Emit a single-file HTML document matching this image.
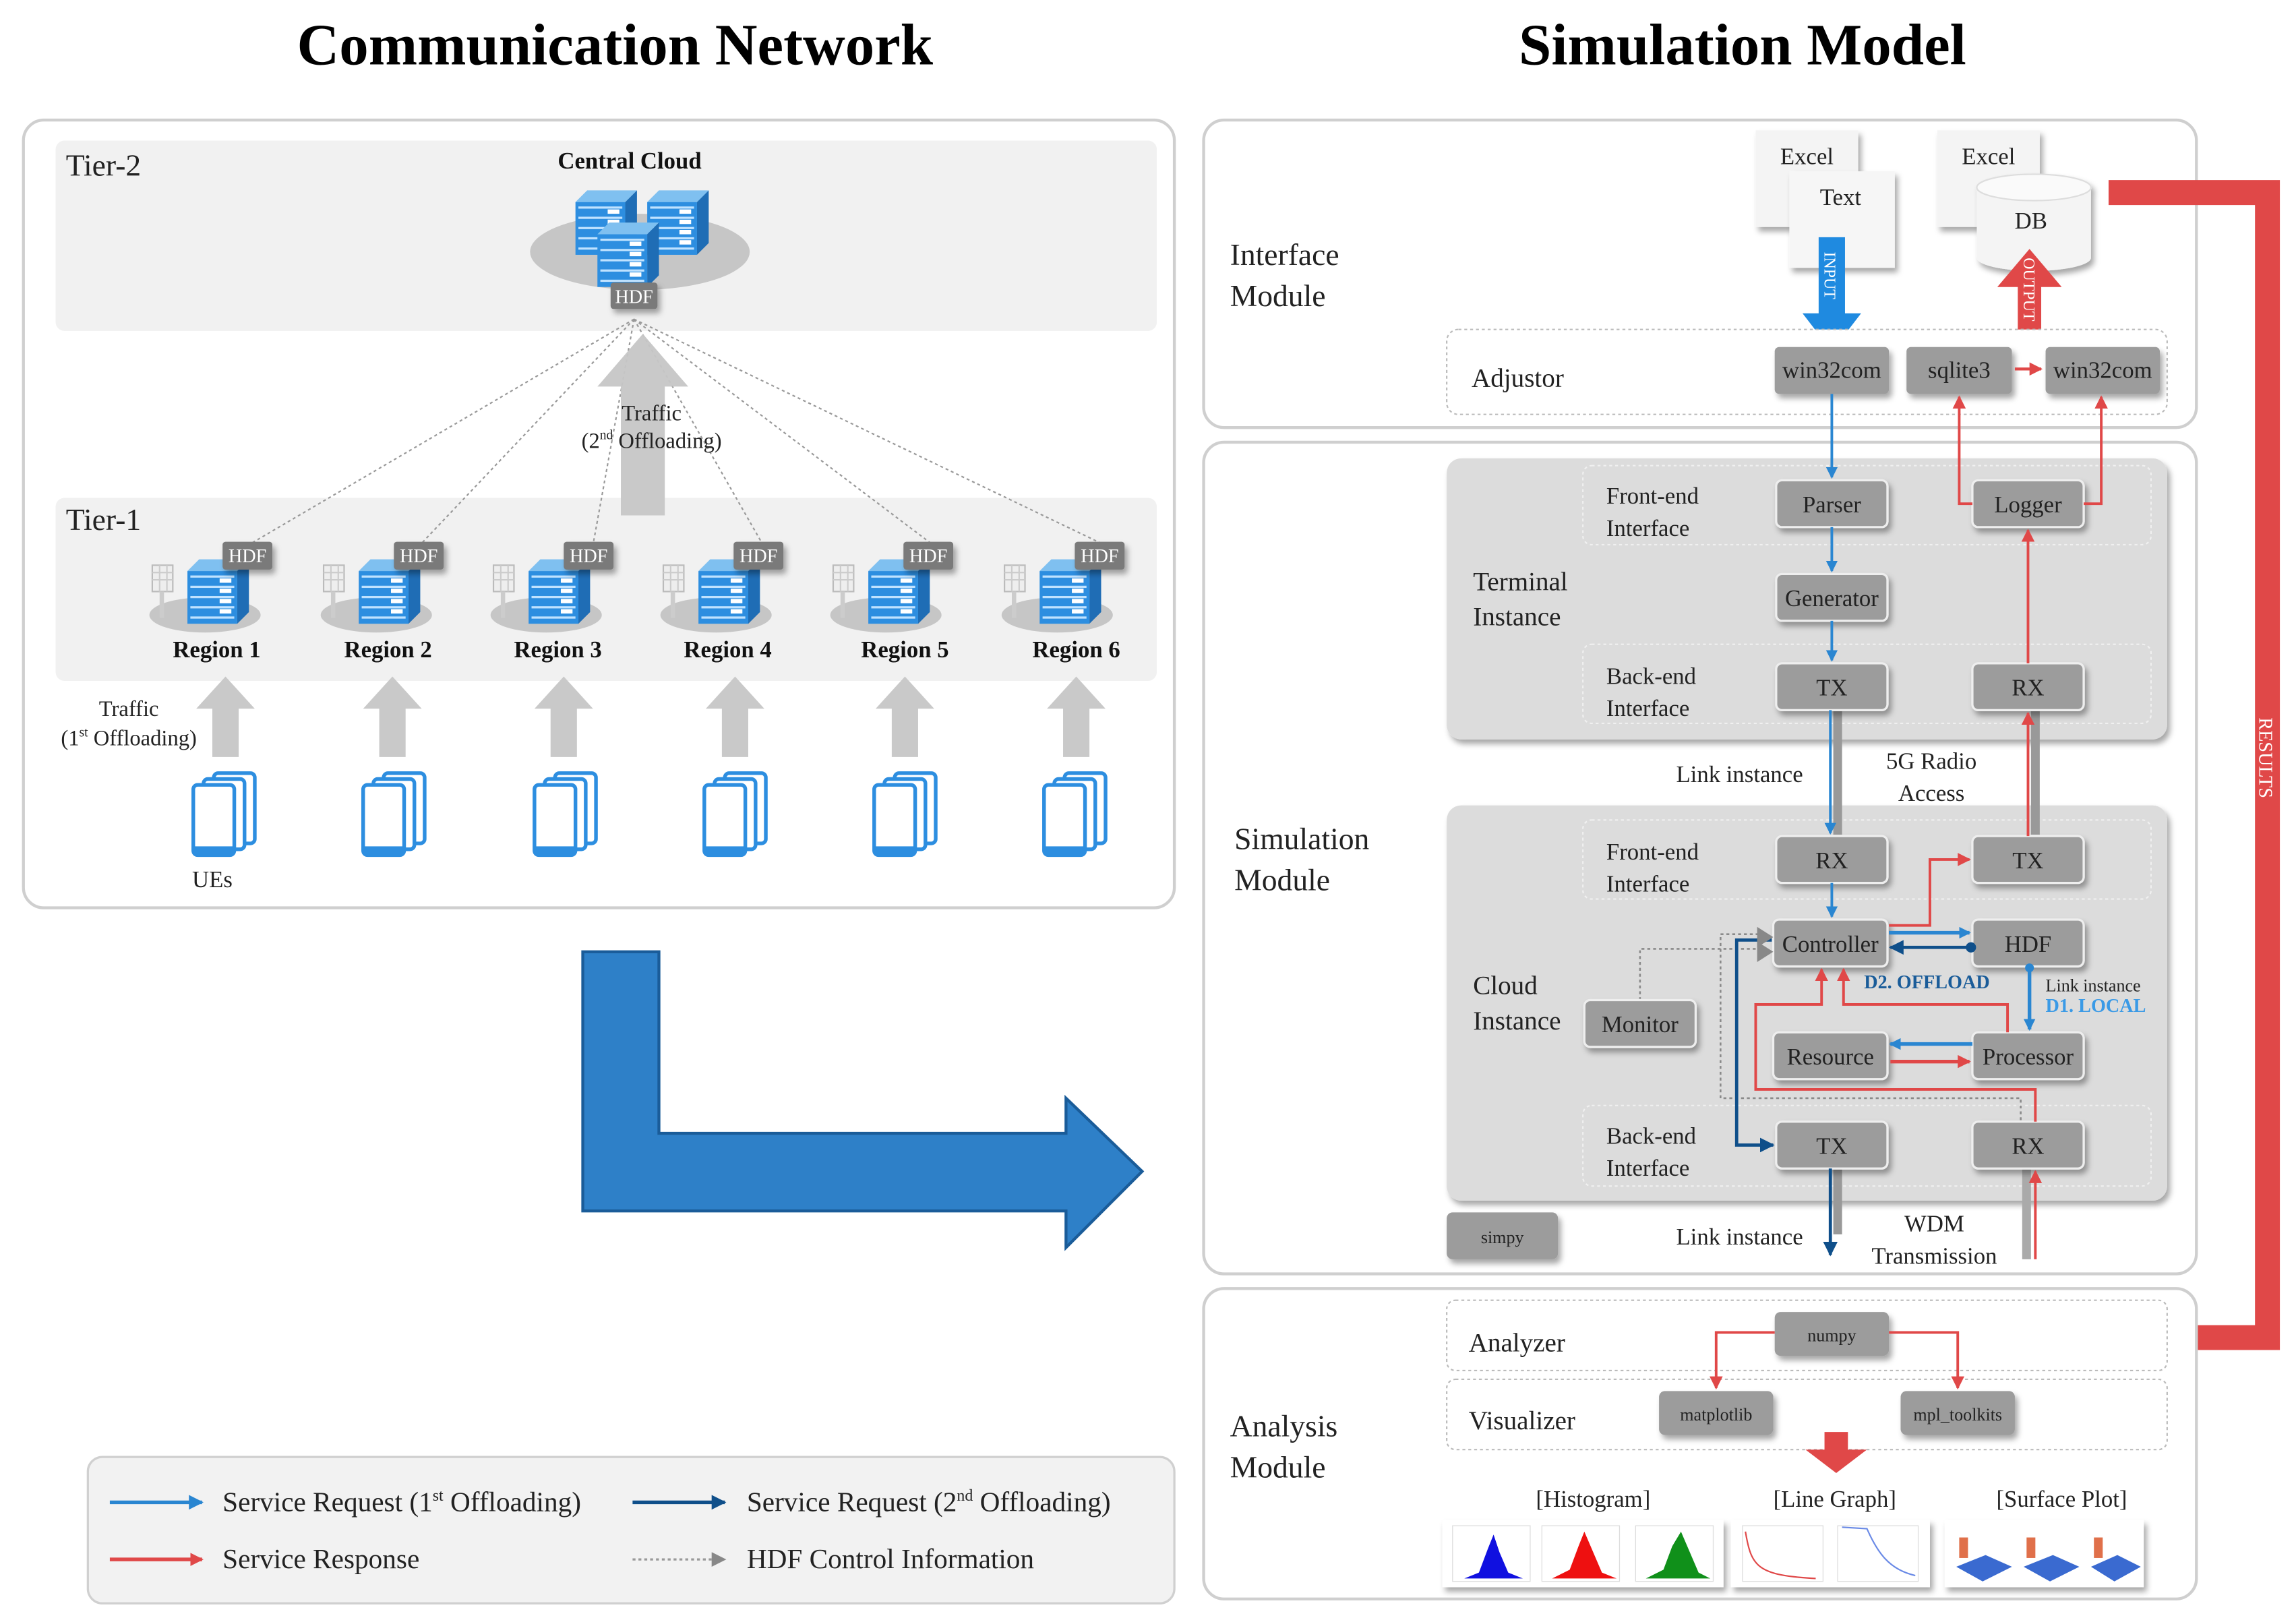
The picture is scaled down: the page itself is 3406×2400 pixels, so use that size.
<!DOCTYPE html>
<html><head><meta charset="utf-8"><style>
html,body{margin:0;padding:0;background:#fff;}
svg{display:block;}
text{font-family:"Liberation Serif",serif;}
text:not([fill]){fill:#222;}
</style></head><body>
<svg width="3406" height="2400" viewBox="0 0 1568 1105" preserveAspectRatio="none" xmlns="http://www.w3.org/2000/svg">
<defs>
<filter id="sh" x="-20%" y="-20%" width="150%" height="160%"><feDropShadow dx="2" dy="3" stdDeviation="2" flood-color="#000" flood-opacity="0.35"/></filter>
<marker id="mb" markerWidth="8" markerHeight="8" refX="7" refY="4" orient="auto" markerUnits="userSpaceOnUse"><path d="M0,0 L8,4 L0,8z" fill="#2a86d1"/></marker>
<marker id="mb2" markerWidth="10" markerHeight="10" refX="9" refY="5" orient="auto" markerUnits="userSpaceOnUse"><path d="M0,0 L10,5 L0,10z" fill="#2a86d1"/></marker>
<marker id="md" markerWidth="10" markerHeight="10" refX="9" refY="5" orient="auto" markerUnits="userSpaceOnUse"><path d="M0,0 L10,5 L0,10z" fill="#0f4f8a"/></marker>
<marker id="mr" markerWidth="9" markerHeight="9" refX="8" refY="4.5" orient="auto" markerUnits="userSpaceOnUse"><path d="M0,0 L9,4.5 L0,9z" fill="#e04848"/></marker>
<marker id="mg" markerWidth="10" markerHeight="10" refX="9" refY="5" orient="auto" markerUnits="userSpaceOnUse"><path d="M0,0 L10,5 L0,10z" fill="#888"/></marker>
<g id="srv">
<path d="M0,8 L8,0 L42,0 L34,8z" fill="#7fc0f0"/>
<path d="M34,8 L42,0 L42,36 L34,44z" fill="#1f6db5"/>
<rect x="0" y="8" width="34" height="36" fill="#2d8ee0"/>
<g fill="#bfe2ff"><rect x="2" y="11" width="30" height="1.5"/><rect x="2" y="18" width="30" height="1.5"/><rect x="2" y="25" width="30" height="1.5"/><rect x="2" y="32" width="30" height="1.5"/><rect x="2" y="39" width="30" height="1.5"/></g>
<g fill="#fff"><rect x="22" y="13" width="8" height="3"/><rect x="22" y="20" width="8" height="3"/><rect x="22" y="27" width="8" height="3"/><rect x="22" y="34" width="8" height="3"/></g>
</g>
<g id="phone">
<rect x="14" y="0" width="28" height="48" rx="3" fill="#fff" stroke="#2d8ee0" stroke-width="2.5"/>
<rect x="7" y="4" width="28" height="48" rx="3" fill="#fff" stroke="#2d8ee0" stroke-width="2.5"/>
<rect x="0" y="8" width="28" height="48" rx="3" fill="#fff" stroke="#2d8ee0" stroke-width="2.5"/>
<rect x="0" y="50" width="28" height="6" fill="#2d8ee0"/>
</g>
<g id="ant">
<rect x="0" y="0" width="14" height="18" fill="#eee" stroke="#bbb"/>
<g stroke="#ccc" stroke-width="1"><line x1="0" y1="5" x2="14" y2="5"/><line x1="0" y1="10" x2="14" y2="10"/><line x1="5" y1="0" x2="5" y2="18"/><line x1="10" y1="0" x2="10" y2="18"/></g>
<rect x="5" y="18" width="3" height="18" fill="#ccc"/>
</g>
<g id="gup"><path d="M-9,55 L-9,22 L-20,22 L0,0 L20,22 L9,22 L9,55z" fill="#c9c9c9"/></g>
</defs>

<!-- Titles -->
<text x="420" y="44" font-size="40" font-weight="bold" text-anchor="middle" fill="#000">Communication Network</text>
<text x="1190" y="44" font-size="40" font-weight="bold" text-anchor="middle" fill="#000">Simulation Model</text>

<!-- LEFT PANEL -->
<rect x="16" y="82" width="786" height="538" rx="14" fill="#fff" stroke="#cfcfcf" stroke-width="2"/>
<rect x="38" y="96" width="752" height="130" rx="6" fill="#f1f1f1"/>
<text x="45" y="120" font-size="21">Tier-2</text>
<text x="430" y="115" font-size="16" font-weight="bold" text-anchor="middle" fill="#111">Central Cloud</text>
<ellipse cx="437" cy="172" rx="75" ry="26" fill="#c6c6c6"/>
<use href="#srv" x="393" y="130"/>
<use href="#srv" x="442" y="130"/>
<use href="#srv" x="408" y="152"/>
<rect x="417" y="193" width="32" height="18" rx="2" fill="#7a7a7a" filter="url(#sh)"/>
<text x="433" y="207" font-size="13" fill="#fff" text-anchor="middle">HDF</text>

<rect x="38" y="340" width="752" height="125" rx="6" fill="#f1f1f1"/>
<text x="45" y="362" font-size="21">Tier-1</text>

<g stroke="#999" stroke-width="1" stroke-dasharray="2,2" fill="none">
<line x1="433" y1="218" x2="170" y2="372"/>
<line x1="433" y1="218" x2="287" y2="372"/>
<line x1="433" y1="218" x2="405" y2="372"/>
<line x1="433" y1="218" x2="521" y2="372"/>
<line x1="433" y1="218" x2="637" y2="372"/>
<line x1="433" y1="218" x2="754" y2="372"/>
</g>
<path d="M424,352 L424,264 L408,264 L439,228 L470,264 L454,264 L454,352z" fill="#c6c6c6" opacity="0.95"/>
<text x="445" y="287" font-size="15" text-anchor="middle">Traffic</text>
<text x="445" y="306" font-size="15" text-anchor="middle">(2<tspan font-size="9" dy="-6">nd</tspan><tspan dy="6"> Offloading)</tspan></text>

<g>
<g transform="translate(140,0)">
<ellipse cx="0" cy="420" rx="38" ry="12" fill="#c6c6c6"/>
<use href="#ant" x="-36" y="386"/>
<use href="#srv" x="-12" y="382"/>
<rect x="12" y="370" width="34" height="19" rx="2" fill="#7a7a7a" filter="url(#sh)"/>
<text x="29" y="384" font-size="13" fill="#fff" text-anchor="middle">HDF</text>
<text x="8" y="449" font-size="16" font-weight="bold" text-anchor="middle" fill="#111">Region 1</text>
</g>
<g transform="translate(257,0)">
<ellipse cx="0" cy="420" rx="38" ry="12" fill="#c6c6c6"/>
<use href="#ant" x="-36" y="386"/>
<use href="#srv" x="-12" y="382"/>
<rect x="12" y="370" width="34" height="19" rx="2" fill="#7a7a7a" filter="url(#sh)"/>
<text x="29" y="384" font-size="13" fill="#fff" text-anchor="middle">HDF</text>
<text x="8" y="449" font-size="16" font-weight="bold" text-anchor="middle" fill="#111">Region 2</text>
</g>
<g transform="translate(373,0)">
<ellipse cx="0" cy="420" rx="38" ry="12" fill="#c6c6c6"/>
<use href="#ant" x="-36" y="386"/>
<use href="#srv" x="-12" y="382"/>
<rect x="12" y="370" width="34" height="19" rx="2" fill="#7a7a7a" filter="url(#sh)"/>
<text x="29" y="384" font-size="13" fill="#fff" text-anchor="middle">HDF</text>
<text x="8" y="449" font-size="16" font-weight="bold" text-anchor="middle" fill="#111">Region 3</text>
</g>
<g transform="translate(489,0)">
<ellipse cx="0" cy="420" rx="38" ry="12" fill="#c6c6c6"/>
<use href="#ant" x="-36" y="386"/>
<use href="#srv" x="-12" y="382"/>
<rect x="12" y="370" width="34" height="19" rx="2" fill="#7a7a7a" filter="url(#sh)"/>
<text x="29" y="384" font-size="13" fill="#fff" text-anchor="middle">HDF</text>
<text x="8" y="449" font-size="16" font-weight="bold" text-anchor="middle" fill="#111">Region 4</text>
</g>
<g transform="translate(605,0)">
<ellipse cx="0" cy="420" rx="38" ry="12" fill="#c6c6c6"/>
<use href="#ant" x="-36" y="386"/>
<use href="#srv" x="-12" y="382"/>
<rect x="12" y="370" width="34" height="19" rx="2" fill="#7a7a7a" filter="url(#sh)"/>
<text x="29" y="384" font-size="13" fill="#fff" text-anchor="middle">HDF</text>
<text x="13" y="449" font-size="16" font-weight="bold" text-anchor="middle" fill="#111">Region 5</text>
</g>
<g transform="translate(722,0)">
<ellipse cx="0" cy="420" rx="38" ry="12" fill="#c6c6c6"/>
<use href="#ant" x="-36" y="386"/>
<use href="#srv" x="-12" y="382"/>
<rect x="12" y="370" width="34" height="19" rx="2" fill="#7a7a7a" filter="url(#sh)"/>
<text x="29" y="384" font-size="13" fill="#fff" text-anchor="middle">HDF</text>
<text x="13" y="449" font-size="16" font-weight="bold" text-anchor="middle" fill="#111">Region 6</text>
</g>
</g>

<use href="#gup" x="154" y="462"/>
<use href="#gup" x="268" y="462"/>
<use href="#gup" x="385" y="462"/>
<use href="#gup" x="502" y="462"/>
<use href="#gup" x="618" y="462"/>
<use href="#gup" x="735" y="462"/>
<text x="88" y="489" font-size="15" text-anchor="middle">Traffic</text>
<text x="88" y="509" font-size="15" text-anchor="middle">(1<tspan font-size="9" dy="-6">st</tspan><tspan dy="6"> Offloading)</tspan></text>

<use href="#phone" x="132" y="528"/>
<use href="#phone" x="248" y="528"/>
<use href="#phone" x="365" y="528"/>
<use href="#phone" x="481" y="528"/>
<use href="#phone" x="597" y="528"/>
<use href="#phone" x="713" y="528"/>
<text x="145" y="606" font-size="16" text-anchor="middle">UEs</text>

<path d="M398,650 L450,650 L450,774 L728,774 L728,750 L780,800 L728,852 L728,827 L398,827z" fill="#2e80c8" stroke="#1a5c99" stroke-width="2"/>

<!-- legend -->
<rect x="60" y="995" width="742" height="100" rx="10" fill="#f2f2f2" stroke="#d0d0d0" stroke-width="1.5"/>
<line x1="75" y1="1026" x2="138" y2="1026" stroke="#2a86d1" stroke-width="2.5" marker-end="url(#mb2)"/>
<text x="152" y="1032" font-size="19">Service Request (1<tspan font-size="11" dy="-7">st</tspan><tspan dy="7"> Offloading)</tspan></text>
<line x1="432" y1="1026" x2="495" y2="1026" stroke="#0f4f8a" stroke-width="2.5" marker-end="url(#md)"/>
<text x="510" y="1032" font-size="19">Service Request (2<tspan font-size="11" dy="-7">nd</tspan><tspan dy="7"> Offloading)</tspan></text>
<line x1="75" y1="1065" x2="138" y2="1065" stroke="#e04848" stroke-width="2.5" marker-end="url(#mr)"/>
<text x="152" y="1071" font-size="19">Service Response</text>
<line x1="432" y1="1065" x2="495" y2="1065" stroke="#999" stroke-width="1.5" stroke-dasharray="2,2" marker-end="url(#mg)"/>
<text x="510" y="1071" font-size="19">HDF Control Information</text>

<!-- RIGHT: Interface module -->
<rect x="822" y="82" width="678" height="210" rx="14" fill="#fff" stroke="#cfcfcf" stroke-width="2"/>
<text x="840" y="181" font-size="21">Interface</text>
<text x="840" y="209" font-size="21">Module</text>
<rect x="1199" y="89" width="70" height="66" fill="#f4f4f4" filter="url(#sh)"/>
<text x="1234" y="112" font-size="16" text-anchor="middle">Excel</text>
<rect x="1222" y="117" width="72" height="66" fill="#f6f6f6" filter="url(#sh)"/>
<text x="1257" y="140" font-size="16" text-anchor="middle">Text</text>
<rect x="1323" y="89" width="70" height="66" fill="#f4f4f4" filter="url(#sh)"/>
<text x="1358" y="112" font-size="16" text-anchor="middle">Excel</text>
<g filter="url(#sh)">
<path d="M1350,128 L1350,176 A39,9 0 0,0 1428,176 L1428,128z" fill="#f4f4f4"/>
<ellipse cx="1389" cy="128" rx="39" ry="9" fill="#fafafa" stroke="#ddd"/>
</g>
<text x="1387" y="156" font-size="16" text-anchor="middle">DB</text>
<path d="M1242,162 L1260,162 L1260,214 L1271,214 L1251,240 L1231,214 L1242,214z" fill="#1f8ae0"/>
<text transform="translate(1246,172) rotate(90)" font-size="11" fill="#fff">INPUT</text>
<path d="M1378,236 L1394,236 L1394,196 L1408,196 L1386,170 L1364,196 L1378,196z" fill="#e04848"/>
<text transform="translate(1382,176) rotate(90)" font-size="11" fill="#fff">OUTPUT</text>

<path d="M1440,123 L1557,123 L1557,922 L1500,922 L1500,935 L1470,912 L1500,890 L1500,905 L1540,905 L1540,140 L1440,140z" fill="#e04848"/>
<text transform="translate(1543,490) rotate(90)" font-size="13" fill="#fff">RESULTS</text>

<rect x="988" y="225" width="492" height="58" rx="8" fill="#fff" stroke="#bbb" stroke-dasharray="2,2"/>
<text x="1005" y="264" font-size="18">Adjustor</text>
<g filter="url(#sh)" fill="#9c9c9c">
<rect x="1212" y="237" width="78" height="32" rx="3"/>
<rect x="1302" y="237" width="72" height="32" rx="3"/>
<rect x="1397" y="237" width="78" height="32" rx="3"/>
</g>
<text x="1251" y="258" font-size="16" text-anchor="middle">win32com</text>
<text x="1338" y="258" font-size="16" text-anchor="middle">sqlite3</text>
<text x="1436" y="258" font-size="16" text-anchor="middle">win32com</text>
<line x1="1376" y1="252" x2="1394" y2="252" stroke="#e04848" stroke-width="2" marker-end="url(#mr)"/>

<!-- Simulation module -->
<rect x="822" y="302" width="678" height="568" rx="14" fill="#fff" stroke="#cfcfcf" stroke-width="2"/>
<text x="843" y="580" font-size="21">Simulation</text>
<text x="843" y="608" font-size="21">Module</text>

<rect x="988" y="313" width="492" height="192" rx="10" fill="#dcdcdc" filter="url(#sh)"/>
<rect x="1081" y="318" width="388" height="54" rx="6" fill="none" stroke="#f0f0f0" stroke-dasharray="2,2"/>
<rect x="1081" y="440" width="388" height="54" rx="6" fill="none" stroke="#f0f0f0" stroke-dasharray="2,2"/>
<text x="1097" y="344" font-size="16">Front-end</text>
<text x="1097" y="366" font-size="16">Interface</text>
<text x="1097" y="467" font-size="16">Back-end</text>
<text x="1097" y="489" font-size="16">Interface</text>
<text x="1006" y="403" font-size="18">Terminal</text>
<text x="1006" y="427" font-size="18">Instance</text>

<rect x="988" y="550" width="492" height="270" rx="10" fill="#dcdcdc" filter="url(#sh)"/>
<rect x="1081" y="560" width="388" height="54" rx="6" fill="none" stroke="#f0f0f0" stroke-dasharray="2,2"/>
<rect x="1081" y="755" width="388" height="55" rx="6" fill="none" stroke="#f0f0f0" stroke-dasharray="2,2"/>
<text x="1097" y="587" font-size="16">Front-end</text>
<text x="1097" y="609" font-size="16">Interface</text>
<text x="1097" y="781" font-size="16">Back-end</text>
<text x="1097" y="803" font-size="16">Interface</text>
<text x="1006" y="679" font-size="18">Cloud</text>
<text x="1006" y="703" font-size="18">Instance</text>

<rect x="1252" y="485" width="6" height="85" fill="#999"/>
<rect x="1387" y="485" width="6" height="85" fill="#999"/>
<rect x="1252" y="798" width="6" height="45" fill="#999"/>
<rect x="1381" y="798" width="6" height="62" fill="#aaa"/>
<text x="1188" y="534" font-size="16" text-anchor="middle">Link instance</text>
<text x="1319" y="525" font-size="16" text-anchor="middle">5G Radio</text>
<text x="1319" y="547" font-size="16" text-anchor="middle">Access</text>
<text x="1188" y="850" font-size="16" text-anchor="middle">Link instance</text>
<text x="1321" y="841" font-size="16" text-anchor="middle">WDM</text>
<text x="1321" y="863" font-size="16" text-anchor="middle">Transmission</text>

<g stroke="#8a8a8a" stroke-width="1.2" stroke-dasharray="2,2" fill="none">
<polyline points="1120,683 1120,648 1205,648"/>
<polyline points="1205,638 1175,638 1175,750 1380,750 1380,770"/>
</g>

<g filter="url(#sh)" fill="#9c9c9c" stroke="#eee" stroke-width="1.5">
<rect x="1213" y="328" width="76" height="32" rx="4"/>
<rect x="1347" y="328" width="76" height="32" rx="4"/>
<rect x="1213" y="392" width="76" height="32" rx="4"/>
<rect x="1213" y="453" width="76" height="32" rx="4"/>
<rect x="1347" y="453" width="76" height="32" rx="4"/>
<rect x="1213" y="571" width="76" height="32" rx="4"/>
<rect x="1347" y="571" width="76" height="32" rx="4"/>
<rect x="1211" y="628" width="78" height="32" rx="4"/>
<rect x="1347" y="628" width="76" height="32" rx="4"/>
<rect x="1082" y="683" width="76" height="32" rx="4"/>
<rect x="1211" y="705" width="78" height="32" rx="4"/>
<rect x="1347" y="705" width="76" height="32" rx="4"/>
<rect x="1213" y="766" width="76" height="32" rx="4"/>
<rect x="1347" y="766" width="76" height="32" rx="4"/>
<rect x="988" y="828" width="76" height="32" rx="4" stroke="none"/>
</g>
<g font-size="16" text-anchor="middle">
<text x="1251" y="350">Parser</text>
<text x="1385" y="350">Logger</text>
<text x="1251" y="414">Generator</text>
<text x="1251" y="475">TX</text>
<text x="1385" y="475">RX</text>
<text x="1251" y="593">RX</text>
<text x="1385" y="593">TX</text>
<text x="1250" y="650">Controller</text>
<text x="1385" y="650">HDF</text>
<text x="1120" y="705">Monitor</text>
<text x="1250" y="727">Resource</text>
<text x="1385" y="727">Processor</text>
<text x="1251" y="788">TX</text>
<text x="1385" y="788">RX</text>
<text x="1026" y="849" font-size="12">simpy</text>
</g>

<g stroke="#2a86d1" stroke-width="1.8" fill="none">
<line x1="1251" y1="269" x2="1251" y2="326" marker-end="url(#mb)"/>
<line x1="1251" y1="360" x2="1251" y2="390" marker-end="url(#mb)"/>
<line x1="1251" y1="424" x2="1251" y2="451" marker-end="url(#mb)"/>
<line x1="1250" y1="485" x2="1250" y2="569" marker-end="url(#mb)"/>
<line x1="1251" y1="603" x2="1251" y2="626" marker-end="url(#mb)"/>
<line x1="1290" y1="637" x2="1345" y2="637" stroke-width="2.5" marker-end="url(#mb)"/>
<line x1="1386" y1="660" x2="1386" y2="703" stroke-width="2.5" marker-end="url(#mb)"/>
<line x1="1347" y1="713" x2="1291" y2="713" stroke-width="2.5" marker-end="url(#mb)"/>
</g>
<circle cx="1386" cy="661" r="3" fill="#2a86d1"/>
<g stroke="#0f4f8a" stroke-width="2.2" fill="none">
<line x1="1346" y1="647" x2="1291" y2="647" marker-end="url(#md)"/>
<polyline points="1210,642 1186,642 1186,782 1211,782" marker-end="url(#md)"/>
<line x1="1250" y1="798" x2="1250" y2="857" marker-end="url(#md)"/>
</g>
<circle cx="1346" cy="647" r="3.5" fill="#0f4f8a"/>

<g stroke="#e04848" stroke-width="1.8" fill="none">
<line x1="1385" y1="453" x2="1385" y2="362" marker-end="url(#mr)"/>
<polyline points="1347,344 1338,344 1338,271" marker-end="url(#mr)"/>
<polyline points="1423,344 1435,344 1435,271" marker-end="url(#mr)"/>
<line x1="1385" y1="571" x2="1385" y2="487" marker-end="url(#mr)"/>
<polyline points="1290,632 1318,632 1318,587 1345,587" marker-end="url(#mr)"/>
<line x1="1291" y1="725" x2="1345" y2="725" stroke-width="2.5" marker-end="url(#mr)"/>
<polyline points="1371,705 1371,686 1259,686 1259,662" marker-end="url(#mr)"/>
<polyline points="1390,766 1390,744 1199,744 1199,686 1244,686 1244,662" marker-end="url(#mr)"/>
<line x1="1390" y1="860" x2="1390" y2="800" marker-end="url(#mr)"/>
</g>
<path d="M1200,633 L1211,640 L1200,647z" fill="#888"/>
<path d="M1200,643 L1211,650 L1200,657z" fill="#888"/>

<text x="1273" y="675" font-size="13" font-weight="bold" fill="#1a5c99">D2. OFFLOAD</text>
<text x="1397" y="677" font-size="12">Link instance</text>
<text x="1397" y="691" font-size="13" font-weight="bold" fill="#3a9ae6">D1. LOCAL</text>

<!-- Analysis module -->
<rect x="822" y="880" width="678" height="212" rx="14" fill="#fff" stroke="#cfcfcf" stroke-width="2"/>
<text x="840" y="981" font-size="21">Analysis</text>
<text x="840" y="1009" font-size="21">Module</text>
<rect x="988" y="888" width="492" height="48" rx="6" fill="#fff" stroke="#bbb" stroke-dasharray="2,2"/>
<rect x="988" y="942" width="492" height="48" rx="6" fill="#fff" stroke="#bbb" stroke-dasharray="2,2"/>
<text x="1003" y="923" font-size="18">Analyzer</text>
<text x="1003" y="976" font-size="18">Visualizer</text>
<g filter="url(#sh)" fill="#9c9c9c">
<rect x="1212" y="896" width="78" height="30" rx="4"/>
<rect x="1133" y="950" width="78" height="30" rx="4"/>
<rect x="1298" y="950" width="78" height="30" rx="4"/>
</g>
<text x="1251" y="916" font-size="12" text-anchor="middle">numpy</text>
<text x="1172" y="970" font-size="12" text-anchor="middle">matplotlib</text>
<text x="1337" y="970" font-size="12" text-anchor="middle">mpl_toolkits</text>
<g stroke="#e04848" stroke-width="1.8" fill="none">
<polyline points="1212,910 1172,910 1172,948" marker-end="url(#mr)"/>
<polyline points="1290,910 1337,910 1337,948" marker-end="url(#mr)"/>
</g>
<path d="M1246,978 L1262,978 L1262,990 L1275,990 L1254,1006 L1233,990 L1246,990z" fill="#e04848"/>
<text x="1088" y="1029" font-size="16" text-anchor="middle">[Histogram]</text>
<text x="1253" y="1029" font-size="16" text-anchor="middle">[Line Graph]</text>
<text x="1408" y="1029" font-size="16" text-anchor="middle">[Surface Plot]</text>
<g filter="url(#sh)" fill="#fff">
<rect x="985" y="1038" width="192" height="46"/>
<rect x="1182" y="1038" width="136" height="46"/>
<rect x="1328" y="1038" width="136" height="46"/>
</g>
<g stroke="#ddd" stroke-width="0.6" fill="none">
<rect x="992" y="1042" width="53" height="38"/><rect x="1053" y="1042" width="53" height="38"/><rect x="1117" y="1042" width="53" height="38"/>
<rect x="1190" y="1042" width="55" height="38"/><rect x="1255" y="1042" width="55" height="38"/>
</g>
<path d="M1000,1078 L1010,1074 L1016,1058 L1020,1048 L1024,1060 L1030,1074 L1040,1078z" fill="#1010e0"/>
<path d="M1060,1078 L1072,1072 L1078,1056 L1082,1046 L1088,1060 L1094,1074 L1104,1078z" fill="#ee1010"/>
<path d="M1124,1078 L1136,1072 L1142,1056 L1148,1046 L1154,1060 L1160,1074 L1168,1078z" fill="#10901a"/>
<path d="M1192,1046 C1196,1070 1200,1076 1240,1078" stroke="#e04848" fill="none"/>
<path d="M1258,1043 L1275,1044 C1282,1060 1290,1072 1308,1076" stroke="#6a8ae6" fill="none"/>
<g fill="#3a6ad0">
<path d="M1336,1070 L1356,1062 L1374,1070 L1354,1080z"/>
<path d="M1382,1070 L1402,1062 L1420,1070 L1400,1080z"/>
<path d="M1428,1070 L1446,1062 L1462,1070 L1444,1080z"/>
</g>
<g fill="#e0704a"><rect x="1338" y="1050" width="6" height="14"/><rect x="1384" y="1050" width="6" height="14"/><rect x="1430" y="1050" width="6" height="14"/></g>
</svg>
</body></html>
